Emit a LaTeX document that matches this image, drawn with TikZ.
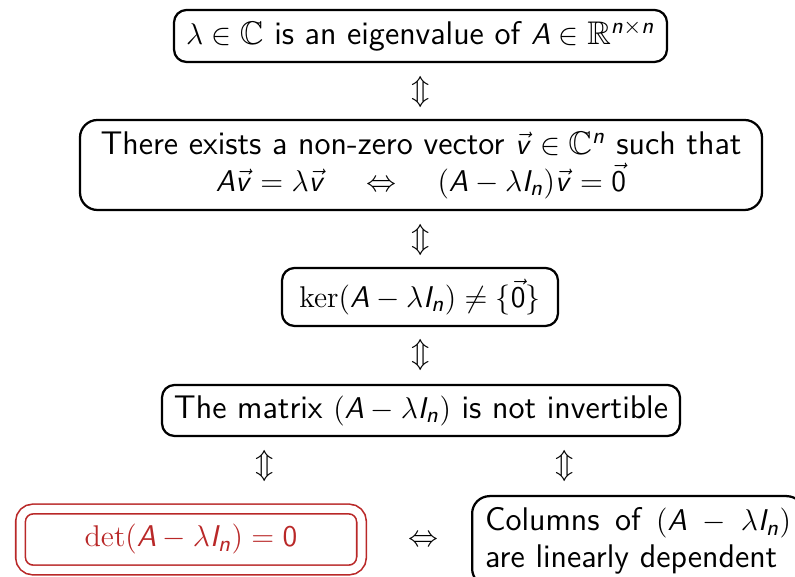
\documentclass[tikz,border=0pt]{standalone}
\usepackage{amsmath,amssymb}
\DeclareSymbolFont{sfit}{OT1}{cmss}{m}{sl}
\DeclareSymbolFont{sfup}{OT1}{cmss}{m}{n}
\DeclareMathSymbol{A}{\mathalpha}{sfit}{`A}
\DeclareMathSymbol{I}{\mathalpha}{sfit}{`I}
\DeclareMathSymbol{n}{\mathalpha}{sfit}{`n}
\DeclareMathSymbol{v}{\mathalpha}{sfit}{`v}
\DeclareMathSymbol{0}{\mathalpha}{sfup}{`0}
\definecolor{alertred}{RGB}{185,40,40}
\begin{document}
\begin{tikzpicture}[x=0.4pt,y=-0.4pt,
  every node/.style={font=\sffamily\fontsize{13.1}{14.8}\selectfont},
  box/.style={draw, line width=0.9pt, rounded corners=5pt, inner sep=0pt, align=center},
  equiv/.style={inner sep=0pt}]
\useasboundingbox (0,0) rectangle (795,577);
\node[box, minimum width=493*0.4pt, minimum height=52*0.4pt] (b1) at (420.5,36)
  {$\lambda\in\mathbb{C}$ is an eigenvalue of $A\in\mathbb{R}^{n\times n}$};
\node[box, rounded corners=7pt, minimum width=682*0.4pt, minimum height=90*0.4pt] (b2) at (421,165)
  {There exists a non-zero vector $\vec v\in\mathbb{C}^n$ such that\\
   $A\vec v=\lambda\vec v\quad\Leftrightarrow\quad(A-\lambda I_n)\vec v=\vec 0$};
\node[box, minimum width=276*0.4pt, minimum height=58*0.4pt] (b3) at (420,297)
  {$\ker(A-\lambda I_n)\neq\{\vec 0\}$};
\node[box, minimum width=518*0.4pt, minimum height=51*0.4pt] (b4) at (421,410.5)
  {The matrix $(A-\lambda I_n)$ is not invertible};
\node[box, draw=alertred, text=alertred, line width=0.65pt, double=white, double distance=8*0.4pt,
  rounded corners=5pt, minimum width=341*0.4pt, minimum height=61*0.4pt] (b5) at (191,539.5)
  {$\det(A-\lambda I_n)=0$};
\node[box, rounded corners=7pt, minimum height=90*0.4pt, inner xsep=13*0.4pt, text width=306*0.4pt, align=left, anchor=north west] (b6) at (471,495)
  {\makebox[306\dimexpr 0.4pt\relax]{Columns\hfill of\hfill $(A\hfill{-}\hfill\lambda I_n)$}\\ are linearly dependent};
\node[equiv] (e1) at (421,92) {$\Updownarrow$};
\node[equiv] (e2) at (421,240) {$\Updownarrow$};
\node[equiv] (e3) at (421,355) {$\Updownarrow$};
\node[equiv] (e4) at (265,466) {$\Updownarrow$};
\node[equiv] (e5) at (565,466) {$\Updownarrow$};
\node[equiv] (e6) at (423,541) {$\Leftrightarrow$};
\end{tikzpicture}
\end{document}
